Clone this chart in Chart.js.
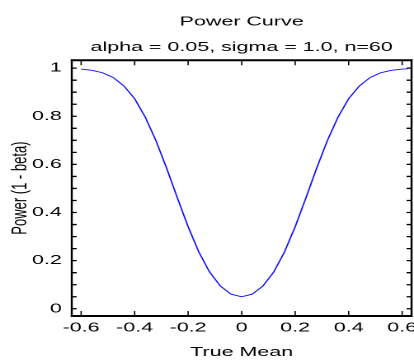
<!DOCTYPE html>
<html>
<head>
<meta charset="utf-8">
<script src="https://cdn.jsdelivr.net/npm/chart.js@4.4.0/dist/chart.umd.min.js"></script>
<style>
html, body { margin: 0; padding: 0; background: #fff; overflow: hidden; }
/* the plot is drawn narrow and widened sideways, giving the broad lettering */
#wrap { width: 251px; height: 360px; transform: scaleX(1.6494); transform-origin: 0 0; }
</style>
</head>
<body>
<div id="wrap"><canvas id="pc" width="251" height="360"></canvas></div>
<script>
var trueMean = [-0.6, -0.56, -0.52, -0.48, -0.44, -0.4, -0.36, -0.32, -0.28, -0.24, -0.2, -0.16, -0.12, -0.08, -0.04,
                0, 0.04, 0.08, 0.12, 0.16, 0.2, 0.24, 0.28, 0.32, 0.36, 0.4, 0.44, 0.48, 0.52, 0.56, 0.6, 0.62];
var power = [0.996, 0.991, 0.981, 0.961, 0.926, 0.873, 0.796, 0.698, 0.583, 0.460, 0.341, 0.236, 0.153, 0.095, 0.061,
             0.050, 0.061, 0.095, 0.153, 0.236, 0.341, 0.460, 0.583, 0.698, 0.796, 0.873, 0.926, 0.961, 0.981, 0.991, 0.996, 0.997];

var xTicks = [-0.6, -0.4, -0.2, 0, 0.2, 0.4, 0.6];
var yTicks = [0, 0.2, 0.4, 0.6, 0.8, 1];
var yMinorTicks = [0, 0.05, 0.1, 0.15, 0.2, 0.25, 0.3, 0.35, 0.4, 0.45, 0.5, 0.55, 0.6, 0.65, 0.7, 0.75, 0.8, 0.85, 0.9, 0.95, 1];

var FONT = "'Liberation Sans', Arial, sans-serif";

// box round the plot plus inward tick marks on all four sides
var framePlugin = {
	id: 'frame',
	afterDraw: function(chart) {
		var ctx = chart.ctx, a = chart.chartArea;
		var xs = chart.scales.x, ys = chart.scales.y;
		ctx.save();
		ctx.strokeStyle = '#000';

		ctx.lineWidth = 2;
		ctx.beginPath();
		ctx.moveTo(a.left - 0.6, a.top); ctx.lineTo(a.right + 0.6, a.top);
		ctx.moveTo(a.left - 0.6, a.bottom); ctx.lineTo(a.right + 0.6, a.bottom);
		ctx.stroke();

		// vertical strokes thinner, they get widened with the canvas
		ctx.lineWidth = 1.2;
		ctx.beginPath();
		ctx.moveTo(a.left, a.top - 1); ctx.lineTo(a.left, a.bottom + 1);
		ctx.moveTo(a.right, a.top - 1); ctx.lineTo(a.right, a.bottom + 1);
		ctx.stroke();

		ctx.lineWidth = 0.8;
		ctx.beginPath();
		xTicks.forEach(function(v) {
			var px = xs.getPixelForValue(v);
			ctx.moveTo(px, a.bottom); ctx.lineTo(px, a.bottom - 5);
			ctx.moveTo(px, a.top); ctx.lineTo(px, a.top + 5);
		});
		ctx.stroke();

		ctx.lineWidth = 1.3;
		ctx.beginPath();
		yMinorTicks.forEach(function(v) {
			var py = ys.getPixelForValue(v);
			ctx.moveTo(a.left, py); ctx.lineTo(a.left + 3, py);
			ctx.moveTo(a.right, py); ctx.lineTo(a.right - 3, py);
		});
		ctx.stroke();
		ctx.restore();
	}
};

var pts = trueMean.map(function(x, i) { return {x: x, y: power[i]}; });

new Chart(document.getElementById('pc'), {
	type: 'line',
	data: {
		datasets: [{
			data: pts,
			borderColor: '#1010ff',
			borderWidth: 0.9,
			pointRadius: 0,
			tension: 0,
			fill: false
		}]
	},
	options: {
		responsive: false,
		animation: false,
		devicePixelRatio: 2,
		layout: { autoPadding: false, padding: { left: 0, right: 1.5, top: 0, bottom: 0 } },
		plugins: {
			legend: { display: false },
			tooltip: { enabled: false },
			title: {
				display: true, text: 'Power Curve', fullSize: false, color: '#000',
				font: { family: FONT, size: 13, weight: 'normal' },
				padding: { top: 14, bottom: 10 }
			},
			subtitle: {
				display: true, text: 'alpha = 0.05, sigma = 1.0, n=60', fullSize: false, color: '#000',
				font: { family: FONT, size: 13, weight: 'normal' },
				padding: { top: 0, bottom: 5 }
			}
		},
		scales: {
			x: {
				type: 'linear', min: -0.635, max: 0.635,
				grid: { display: false, drawTicks: false },
				border: { display: false },
				afterBuildTicks: function(s) { s.ticks = xTicks.map(function(v) { return {value: v}; }); },
				afterFit: function(s) { s.height = 44; s.paddingLeft = 0; s.paddingRight = 0; },
				ticks: {
					autoSkip: false, maxRotation: 0, padding: 4, color: '#000',
					font: { family: FONT, size: 13 },
					callback: function(v) { return String(v); }
				},
				title: {
					display: true, text: 'True Mean', color: '#000',
					font: { family: FONT, size: 13 },
					padding: { top: 0, bottom: 0 }
				}
			},
			y: {
				min: -0.03, max: 1.033,
				grid: { display: false, drawTicks: false },
				border: { display: false },
				afterBuildTicks: function(s) { s.ticks = yTicks.map(function(v) { return {value: v}; }); },
				afterFit: function(s) { s.width = 43.5; s.paddingTop = 0; s.paddingBottom = 0; },
				ticks: {
					autoSkip: false, padding: 6, color: '#000',
					font: { family: FONT, size: 13 },
					callback: function(v) { return String(v); }
				},
				title: {
					display: true, text: 'Power (1 - beta)', color: '#000',
					font: { family: FONT, size: 13 },
					padding: { top: 4.7, bottom: 0 }
				}
			}
		}
	},
	plugins: [framePlugin]
});
</script>
</body>
</html>
